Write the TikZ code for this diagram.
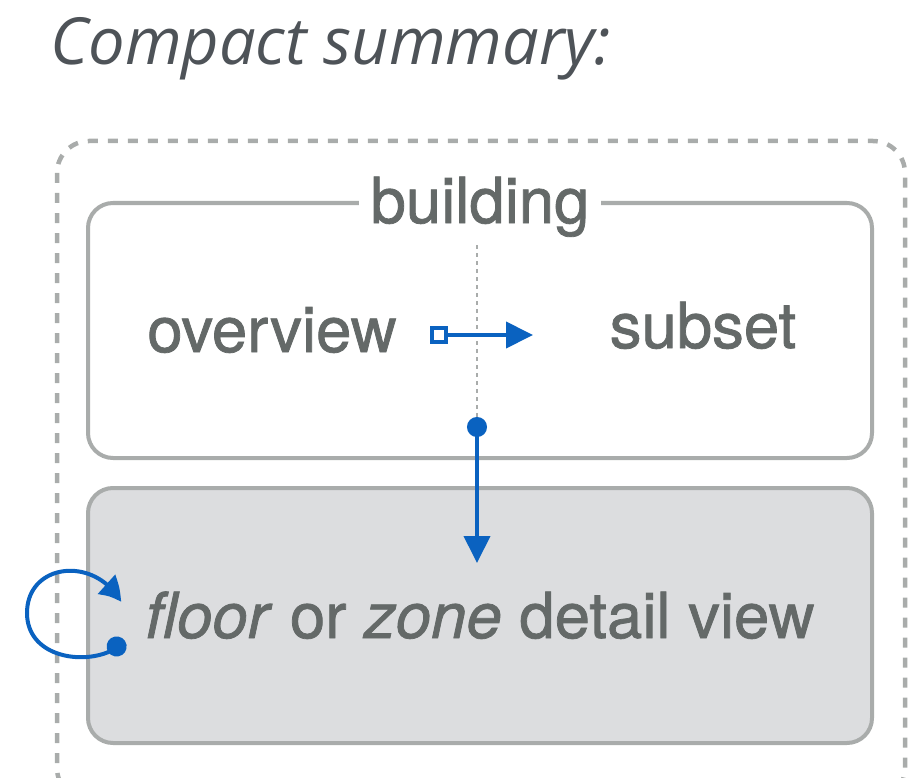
\documentclass[tikz,border=0pt]{standalone}
\usepackage{fontspec}
\setmainfont{TeX Gyre Heros}[FakeBold=1.2]
\newfontfamily\titlefont{Open Sans}
\usetikzlibrary{arrows.meta,bending}
\definecolor{boxgray}{HTML}{A9ACAB}
\definecolor{txtgray}{HTML}{646968}
\definecolor{ttlgray}{HTML}{4E5358}
\definecolor{viewblue}{HTML}{0A62C0}
\definecolor{detailfill}{HTML}{DCDDDF}
\tikzset{
  viewbox/.style={draw=boxgray,line width=4pt,rounded corners=25pt,minimum width=784pt,minimum height=255pt,inner sep=0pt},
  bigtext/.style={text=txtgray,font=\fontsize{63.5}{70}\selectfont,inner sep=2pt},
  link/.style={draw=viewblue,line width=4pt}
}

\begin{document}
\begin{tikzpicture}[x=1pt,y=-1pt]
\useasboundingbox (0,0) rectangle (923,778);
\node[anchor=base west,text=ttlgray,inner sep=0pt,font=\titlefont\fontsize{65}{72}\selectfont\itshape] (title) at (50,65) {Compact summary:};
\draw[boxgray,line width=4.5pt,dash pattern=on 10pt off 10pt,rounded corners=32pt] (57,141) rectangle (905,800);
\node[viewbox,fill=white] (building) at (480,330.5) {};
\node[viewbox,fill=detailfill] (detail) at (480,615.5) {};
\node[bigtext,fill=white,inner xsep=12pt,anchor=base] (bldlabel) at ([yshift=-22pt]building.north) {building};
\node[bigtext,anchor=base] (overview) at (272,352) {overview};
\node[bigtext,anchor=base] (subset) at (703,348) {subset};
\node[bigtext,anchor=base] (zone) at (480,638) {\textit{floor} or \textit{zone} detail view};
\coordinate (sq) at (430,335);
\coordinate (tip) at (533,335);
\coordinate (dot) at (477,417);
\coordinate (down) at (477,563);
\coordinate (loop) at (125,641);
\coordinate (back) at (121,602);
\draw[boxgray,line width=2.5pt,dash pattern=on 4pt off 4pt] (bldlabel.south -| dot) ++(0,6) -- ([yshift=-10pt]dot);
\draw[link,{Square[open,length=18pt,width=18pt,line width=4pt]}-{Triangle[length=27pt,width=26pt]}] (sq) -- (tip);
\draw[link,{Circle[length=20pt]}-{Triangle[length=27pt,width=26pt]}] (dot) -- (down);
\draw[link,{Circle[length=20pt]}-{Triangle[length=24pt,width=25pt,bend]}] (loop) .. controls (100,668) and (27,663) .. (27,613) .. controls (27,563) and (95,555) .. (back);
\end{tikzpicture}
\end{document}
